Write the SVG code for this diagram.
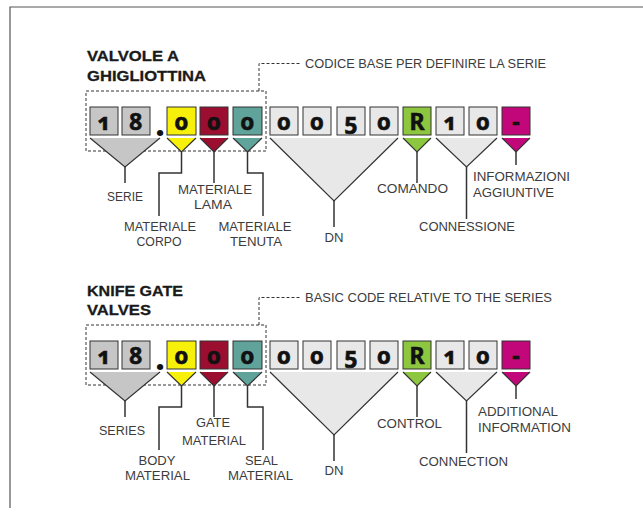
<svg xmlns="http://www.w3.org/2000/svg" width="643" height="518" viewBox="0 0 643 518">
<style>
.frame{fill:none;stroke:#555;stroke-width:1.2}
.box{stroke:#333;stroke-width:1}
.g1{fill:#c6c6c6}.g2{fill:#e8e8e8}.yl{fill:#f7f00a}.rd{fill:#9b0e30}.tl{fill:#5fa39b}.gr{fill:#8dc63f}.mg{fill:#c2077b}
.dig{font-family:"Noto Sans","DejaVu Sans",sans-serif;font-weight:bold;font-size:23px;fill:#111;stroke:#111;stroke-width:0.6;text-anchor:middle;font-variant-numeric:oldstyle-nums}
.dot{font-family:"Noto Sans","DejaVu Sans",sans-serif;font-weight:bold;font-size:36px;fill:#111;text-anchor:middle}
.ttl{font-family:"Liberation Sans",Arial,sans-serif;font-weight:bold;font-size:15.5px;fill:#1a1a1a;stroke:#1a1a1a;stroke-width:0.3}
.lbl{font-family:"Liberation Sans",Arial,sans-serif;font-size:12.5px;fill:#3c3c3c}
.c{text-anchor:middle}
.edge{fill:none;stroke:#333;stroke-width:1.2}
.conn{fill:none;stroke:#333;stroke-width:1.5}
.dash{fill:none;stroke:#333;stroke-width:1;stroke-dasharray:3 2}
</style>
<defs>
<g id="codebar">
<rect class="box g1" x="90" y="107" width="28" height="28"/>
<rect class="box g1" x="122" y="107" width="28" height="28"/>
<rect class="box yl" x="167" y="107" width="29" height="28"/>
<rect class="box rd" x="200" y="107" width="28" height="28"/>
<rect class="box tl" x="233" y="107" width="29" height="28"/>
<rect class="box g2" x="270" y="107" width="28" height="28"/>
<rect class="box g2" x="303" y="107" width="28" height="28"/>
<rect class="box g2" x="337" y="107" width="28" height="28"/>
<rect class="box g2" x="370" y="107" width="28" height="28"/>
<rect class="box gr" x="403" y="107" width="28" height="28"/>
<rect class="box g2" x="436" y="107" width="28" height="28"/>
<rect class="box g2" x="469" y="107" width="28" height="28"/>
<rect class="box mg" x="502" y="107" width="28" height="28"/>
<polygon class="g1" points="90,138 160,138 125,167"/>
<path class="edge" d="M90,138 L125,167 L160,138"/>
<polygon class="yl" points="167,138 196,138 181.5,152"/>
<path class="edge" d="M167,138 L181.5,152 L196,138"/>
<polygon class="rd" points="200,138 228,138 214,152"/>
<path class="edge" d="M200,138 L214,152 L228,138"/>
<polygon class="tl" points="233,138 262,138 247.5,152"/>
<path class="edge" d="M233,138 L247.5,152 L262,138"/>
<polygon class="g2" points="270,138 398,138 334,201"/>
<path class="edge" d="M270,138 L334,201 L398,138"/>
<polygon class="gr" points="403,138 431,138 417,152"/>
<path class="edge" d="M403,138 L417,152 L431,138"/>
<polygon class="g2" points="436,138 497,138 466.5,167"/>
<path class="edge" d="M436,138 L466.5,167 L497,138"/>
<polygon class="mg" points="502,138 530,138 516,152"/>
<path class="edge" d="M502,138 L516,152 L530,138"/>
</g>
<g id="leaders">
<path class="conn" d="M125,167 V183"/>
<path class="conn" d="M181.5,152 V173 H159 V216"/>
<path class="conn" d="M214,152 V183"/>
<path class="conn" d="M247.5,152 V173 H263 V216"/>
<path class="conn" d="M334,201 V227"/>
<path class="conn" d="M417,152 V183"/>
<path class="conn" d="M466.5,167 V219"/>
<path class="conn" d="M516,152 V165"/>
<path class="dash" d="M86,91 H266 V151 H86 Z"/>
<path class="dash" d="M259,91 V63.5 H300"/>
</g>
</defs>

<path id="frame" class="frame" d="M10,508 V7 H643"/>

<g id="connectors">
<use href="#leaders"/>
<use href="#leaders" transform="translate(0,234)"/>
</g>

<g id="it-code">
<use href="#codebar"/>
<text class="dig" x="104" y="130">1</text>
<text class="dig" x="136" y="130">8</text>
<text class="dot" x="160" y="136">.</text>
<text class="dig" x="181.5" y="130">0</text>
<text class="dig" x="214" y="130">0</text>
<text class="dig" x="247.5" y="130">0</text>
<text class="dig" x="284" y="130">0</text>
<text class="dig" x="317" y="130">0</text>
<text class="dig" x="351" y="130">5</text>
<text class="dig" x="384" y="130">0</text>
<text class="dig" x="417" y="130">R</text>
<text class="dig" x="450" y="130">1</text>
<text class="dig" x="483" y="130">0</text>
<text class="dig" x="516" y="130">-</text>
</g>

<g id="it-title">
<text class="ttl" x="87" y="61" textLength="92" lengthAdjust="spacingAndGlyphs">VALVOLE A</text>
<text class="ttl" x="87" y="81" textLength="119" lengthAdjust="spacingAndGlyphs">GHIGLIOTTINA</text>
</g>
<g id="it-base"><text class="lbl" x="305" y="68" textLength="241" lengthAdjust="spacingAndGlyphs">CODICE BASE PER DEFINIRE LA SERIE</text></g>
<g id="it-serie"><text class="lbl c" x="125" y="201" textLength="36" lengthAdjust="spacingAndGlyphs">SERIE</text></g>
<g id="it-corpo">
<text class="lbl c" x="160" y="231" textLength="72" lengthAdjust="spacingAndGlyphs">MATERIALE</text>
<text class="lbl c" x="159" y="246" textLength="45" lengthAdjust="spacingAndGlyphs">CORPO</text>
</g>
<g id="it-lama">
<text class="lbl c" x="215" y="194" textLength="74" lengthAdjust="spacingAndGlyphs">MATERIALE</text>
<text class="lbl c" x="213" y="209" textLength="38" lengthAdjust="spacingAndGlyphs">LAMA</text>
</g>
<g id="it-tenuta">
<text class="lbl c" x="255" y="231" textLength="73" lengthAdjust="spacingAndGlyphs">MATERIALE</text>
<text class="lbl c" x="256" y="246" textLength="52" lengthAdjust="spacingAndGlyphs">TENUTA</text>
</g>
<g id="it-dn"><text class="lbl c" x="334" y="242" textLength="19" lengthAdjust="spacingAndGlyphs">DN</text></g>
<g id="it-comando"><text class="lbl c" x="412.5" y="193" textLength="71" lengthAdjust="spacingAndGlyphs">COMANDO</text></g>
<g id="it-connessione"><text class="lbl c" x="467" y="231" textLength="96" lengthAdjust="spacingAndGlyphs">CONNESSIONE</text></g>
<g id="it-info">
<text class="lbl" x="473" y="181" textLength="97" lengthAdjust="spacingAndGlyphs">INFORMAZIONI</text>
<text class="lbl" x="473" y="197" textLength="81" lengthAdjust="spacingAndGlyphs">AGGIUNTIVE</text>
</g>

<g id="en-code">
<use href="#codebar" transform="translate(0,234)"/>
<text class="dig" x="104" y="364">1</text>
<text class="dig" x="136" y="364">8</text>
<text class="dot" x="160" y="370">.</text>
<text class="dig" x="181.5" y="364">0</text>
<text class="dig" x="214" y="364">0</text>
<text class="dig" x="247.5" y="364">0</text>
<text class="dig" x="284" y="364">0</text>
<text class="dig" x="317" y="364">0</text>
<text class="dig" x="351" y="364">5</text>
<text class="dig" x="384" y="364">0</text>
<text class="dig" x="417" y="364">R</text>
<text class="dig" x="450" y="364">1</text>
<text class="dig" x="483" y="364">0</text>
<text class="dig" x="516" y="364">-</text>
</g>

<g id="en-title">
<text class="ttl" x="87" y="296" textLength="96" lengthAdjust="spacingAndGlyphs">KNIFE GATE</text>
<text class="ttl" x="87" y="315" textLength="64" lengthAdjust="spacingAndGlyphs">VALVES</text>
</g>
<g id="en-base"><text class="lbl" x="305" y="302" textLength="247" lengthAdjust="spacingAndGlyphs">BASIC CODE RELATIVE TO THE SERIES</text></g>
<g id="en-series"><text class="lbl c" x="122" y="435" textLength="46" lengthAdjust="spacingAndGlyphs">SERIES</text></g>
<g id="en-body">
<text class="lbl c" x="157" y="465" textLength="37" lengthAdjust="spacingAndGlyphs">BODY</text>
<text class="lbl c" x="157.5" y="480" textLength="65" lengthAdjust="spacingAndGlyphs">MATERIAL</text>
</g>
<g id="en-gate">
<text class="lbl c" x="213" y="427" textLength="34" lengthAdjust="spacingAndGlyphs">GATE</text>
<text class="lbl c" x="214" y="445" textLength="64" lengthAdjust="spacingAndGlyphs">MATERIAL</text>
</g>
<g id="en-seal">
<text class="lbl c" x="261.5" y="465" textLength="33" lengthAdjust="spacingAndGlyphs">SEAL</text>
<text class="lbl c" x="260.5" y="480" textLength="65" lengthAdjust="spacingAndGlyphs">MATERIAL</text>
</g>
<g id="en-dn"><text class="lbl c" x="334" y="475" textLength="19" lengthAdjust="spacingAndGlyphs">DN</text></g>
<g id="en-control"><text class="lbl c" x="409.5" y="428" textLength="65" lengthAdjust="spacingAndGlyphs">CONTROL</text></g>
<g id="en-connection"><text class="lbl c" x="463.5" y="466" textLength="89" lengthAdjust="spacingAndGlyphs">CONNECTION</text></g>
<g id="en-info">
<text class="lbl" x="478" y="416" textLength="80" lengthAdjust="spacingAndGlyphs">ADDITIONAL</text>
<text class="lbl" x="478" y="432" textLength="93" lengthAdjust="spacingAndGlyphs">INFORMATION</text>
</g>
</svg>
